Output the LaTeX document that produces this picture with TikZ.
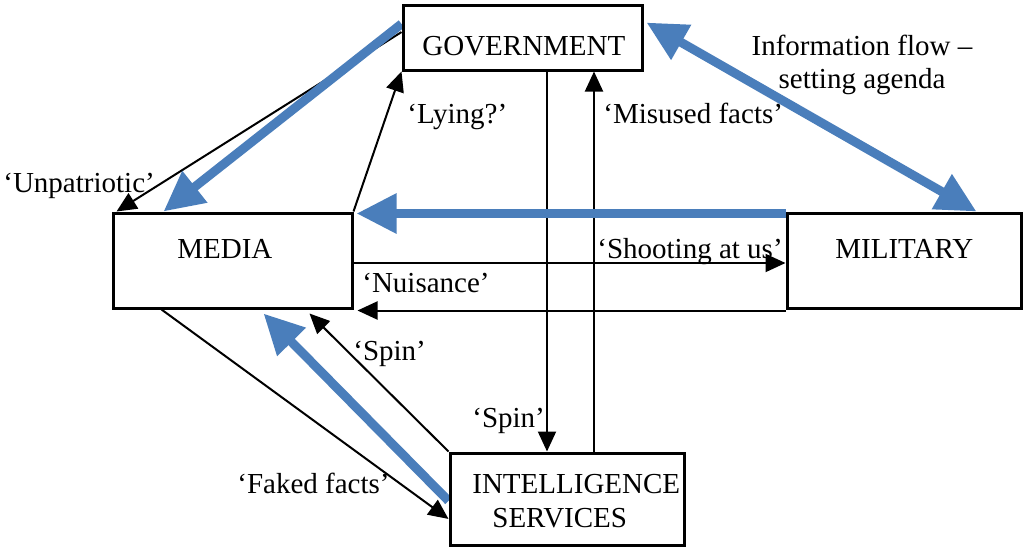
\documentclass[tikz,border=0pt]{standalone}
\usepackage{fontspec}
\setmainfont{Liberation Serif}
\usetikzlibrary{arrows.meta,calc,backgrounds}
\definecolor{flowblue}{RGB}{74,126,187}
\begin{document}
\begin{tikzpicture}[x=0.5pt,y=-0.5pt,
  box/.style={draw=black, line width=1.5pt, fill=white, inner sep=0pt, rectangle},
  lbl/.style={inner sep=0pt, anchor=base west, font=\fontsize{14.5pt}{17pt}\selectfont},
  blk/.style={draw=black, line width=1pt, -{Triangle[length=10pt,width=9pt]}},
  blu/.style={draw=flowblue, line width=4.5pt, -{Triangle[length=20pt,width=19pt]}},
  blu2/.style={draw=flowblue, line width=4.5pt, {Triangle[length=20pt,width=19pt]}-{Triangle[length=20pt,width=19pt]}},
  ]
\useasboundingbox (0,0) rectangle (1024,547);
% boxes
\node[box, minimum width=119.5pt, minimum height=32.5pt] (gov) at (522.5,37.5) {};
\node[box, minimum width=119.5pt, minimum height=47.5pt] (media) at (232.5,260.5) {};
\node[box, minimum width=117pt, minimum height=47.5pt] (mil) at (904,260.5) {};
\node[box, minimum width=117pt, minimum height=46pt] (intel) at (567,499) {};
% texts
\node[lbl] (tunp) at (3,192) {‘Unpatriotic’};
\node[lbl] (tgov) at (422,55) {GOVERNMENT};
\node[lbl] (tly) at (407,123) {‘Lying?’};
\node[lbl] (tmis) at (603,123) {‘Misused facts’};
\node[lbl, anchor=base] (tinf1) at (862,55) {Information flow –};
\node[lbl, anchor=base] (tinf2) at (862,88) {setting agenda};
\node[lbl] (tmed) at (177,258) {MEDIA};
\node[lbl] (tmil) at (835,258) {MILITARY};
\node[lbl] (tshoot) at (597,258) {‘Shooting at us’};
\node[lbl] (tnui) at (362,292) {‘Nuisance’};
\node[lbl] (tspin1) at (353,360) {‘Spin’};
\node[lbl] (tspin2) at (472,427) {‘Spin’};
\node[lbl] (tfake) at (237,493) {‘Faked facts’};
\node[lbl] (tint) at (472,493) {INTELLIGENCE};
\node[lbl] (tser) at (492,527) {SERVICES};
\begin{scope}[on background layer]
  % black connectors
  \draw[blk] ($(gov.north west)!0.42!(gov.south west)$) -- ([xshift=2.5pt]media.north west);
  \draw[blk] (media.north east) -- (gov.south west);
  \draw[blk] ([xshift=12.25pt]gov.south) -- ([xshift=12.25pt]gov.south |- intel.north);
  \draw[blk] ([xshift=35.75pt]gov.south |- intel.north) -- ([xshift=35.75pt]gov.south);
  \draw[blk] ([yshift=-1.25pt]media.east) -- ([yshift=-1.25pt]media.east -| mil.west);
  \draw[blk] ([yshift=-0.5pt]mil.south west) -- ([yshift=-0.5pt,xshift=2pt]media.south east);
  \draw[blk] (intel.north west) -- ([xshift=-22pt,yshift=-2pt]media.south east);
  \draw[blk] ([xshift=25pt]media.south west) -- ($(intel.north west)!0.71!(intel.south west)$);
  % blue flows
  \draw[blu] ($(gov.north west)!0.3!(gov.south west)$) -- ([xshift=26pt]media.north west);
  \draw[blu] ([yshift=-1pt]mil.north west) -- ([xshift=1.5pt,yshift=-1pt]media.north east);
  \draw[blu2] ([xshift=1.5pt]$(gov.north east)!0.28!(gov.south east)$) -- ([xshift=95.5pt]mil.north west);
  \draw[blu] ($(intel.north west)!0.52!(intel.south west)$) -- ([xshift=-45pt,yshift=-2pt]media.south east);
\end{scope}
\end{tikzpicture}
\end{document}
